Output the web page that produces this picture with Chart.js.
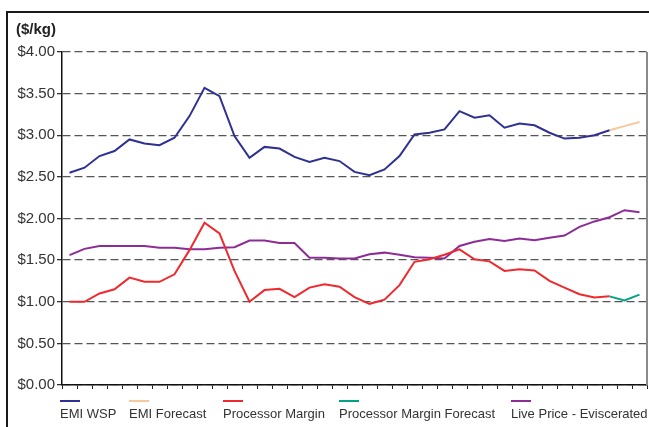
<!DOCTYPE html>
<html>
<head>
<meta charset="utf-8">
<script src="https://cdn.jsdelivr.net/npm/chart.js@4/dist/chart.umd.min.js"></script>
<style>
  html, body { margin: 0; padding: 0; background: #fff; }
  #wrap { position: relative; width: 649px; height: 427px; overflow: hidden; }
  #frame { position: absolute; left: 6px; top: 11px; width: 700px; height: 500px;
           border-top: 2px solid #1a1a1a; border-left: 2px solid #1a1a1a; pointer-events: none; }
  canvas { position: absolute; left: 0; top: 0; }
</style>
</head>
<body>
<div id="wrap">
  <canvas id="c" width="649" height="427"></canvas>
  <div id="frame"></div>
</div>
<script>
const categories = ['P1','P2','P3','P4','P5','P6','P7','P8','P9','P10','P11','P12','P13','P14','P15','P16','P17','P18','P19','P20',
  'P21','P22','P23','P24','P25','P26','P27','P28','P29','P30','P31','P32','P33','P34','P35','P36','P37','P38','P39'];

const emiWsp = [2.55,2.61,2.75,2.81,2.95,2.90,2.88,2.97,3.23,3.57,
  3.47,2.99,2.73,2.86,2.84,2.74,2.68,2.73,2.69,2.56,
  2.52,2.59,2.75,3.01,3.03,3.07,3.29,3.21,3.24,3.09,
  3.14,3.12,3.03,2.96,2.97,3.00,3.06,null,null];

const emiForecast = [null,null,null,null,null,null,null,null,null,null,
  null,null,null,null,null,null,null,null,null,null,
  null,null,null,null,null,null,null,null,null,null,
  null,null,null,null,null,null,3.06,3.11,3.16];

const processorMargin = [1.00,1.00,1.10,1.15,1.29,1.24,1.24,1.33,1.62,1.95,
  1.82,1.37,1.00,1.14,1.155,1.055,1.17,1.21,1.18,1.055,
  0.975,1.025,1.20,1.48,1.51,1.565,1.63,1.51,1.485,1.37,
  1.39,1.375,1.25,1.17,1.09,1.05,1.065,null,null];

const processorMarginForecast = [null,null,null,null,null,null,null,null,null,null,
  null,null,null,null,null,null,null,null,null,null,
  null,null,null,null,null,null,null,null,null,null,
  null,null,null,null,null,null,1.065,1.015,1.085];

const livePriceEviscerated = [1.56,1.635,1.67,1.67,1.67,1.67,1.65,1.65,1.63,1.63,
  1.65,1.655,1.735,1.735,1.705,1.705,1.53,1.53,1.52,1.52,
  1.57,1.59,1.565,1.535,1.53,1.52,1.67,1.72,1.755,1.73,
  1.76,1.74,1.77,1.795,1.90,1.965,2.015,2.10,2.075];

const yTickLabels = ['$0.00','$0.50','$1.00','$1.50','$2.00','$2.50','$3.00','$3.50','$4.00'];
const seriesNames = ['EMI WSP','EMI Forecast','Processor Margin','Processor Margin Forecast','Live Price - Eviscerated'];
const seriesColors = ['#2e3192','#f6c89c','#ee2a2e','#00a484','#8e2c96'];

const FONT = "'Liberation Sans', Arial, Helvetica, sans-serif";

const decorPlugin = {
  id: 'decor',
  afterDraw(chart, args, opts) {
    const ctx = chart.ctx;
    const a = chart.chartArea;
    ctx.save();
    // right border of plot
    ctx.strokeStyle = '#8a8a8a';
    ctx.lineWidth = 2;
    ctx.beginPath();
    ctx.moveTo(a.right, a.top);
    ctx.lineTo(a.right, a.bottom);
    ctx.stroke();
    // unit label
    ctx.fillStyle = '#222';
    ctx.font = 'bold 15px ' + FONT;
    ctx.textBaseline = 'middle';
    ctx.textAlign = 'left';
    ctx.fillText('($/kg)', 16, 30);
    // custom legend: line sample above text
    ctx.font = '13px ' + FONT;
    chart.data.datasets.forEach((ds, i) => {
      const x = opts.xs[i];
      ctx.strokeStyle = ds.borderColor;
      ctx.lineWidth = 2;
      ctx.beginPath();
      ctx.moveTo(x, 401);
      ctx.lineTo(x + 20, 401);
      ctx.stroke();
      ctx.fillStyle = '#333';
      ctx.fillText(ds.label, x, 414.5);
    });
    ctx.restore();
  }
};

const seriesData = [emiWsp, emiForecast, processorMargin, processorMarginForecast, livePriceEviscerated];

new Chart(document.getElementById('c'), {
  type: 'line',
  data: {
    labels: categories,
    datasets: seriesData.map((d, i) => ({
      label: seriesNames[i],
      data: d,
      borderColor: seriesColors[i],
      backgroundColor: seriesColors[i],
      borderWidth: 2,
      pointRadius: 0,
      pointHoverRadius: 0,
      tension: 0,
      fill: false
    }))
  },
  options: {
    responsive: false,
    animation: false,
    events: [],
    layout: { padding: { left: 0, right: 2, top: 52, bottom: 0 } },
    plugins: {
      legend: { display: false },
      tooltip: { enabled: false },
      decor: { xs: [60, 129, 223, 339, 511] }
    },
    scales: {
      x: {
        offset: true,
        grid: { display: true, drawOnChartArea: false, drawTicks: true, tickLength: 4, offset: true, color: '#222', lineWidth: 1 },
        border: { display: true, color: '#111', width: 1.5 },
        ticks: { display: false },
        afterFit(s) { s.height = 42; }
      },
      y: {
        min: 0,
        max: 4,
        grid: { color: '#555', lineWidth: 1.3, tickLength: 5, tickColor: '#333' },
        border: { display: true, color: '#111', width: 1.5, dash: [8, 4] },
        ticks: {
          stepSize: 0.5,
          padding: 2,
          color: '#333',
          font: { family: FONT, size: 15 },
          callback: (v, i) => yTickLabels[i]
        },
        afterFit(s) { s.width = 62; }
      }
    }
  },
  plugins: [decorPlugin]
});
</script>
</body>
</html>
